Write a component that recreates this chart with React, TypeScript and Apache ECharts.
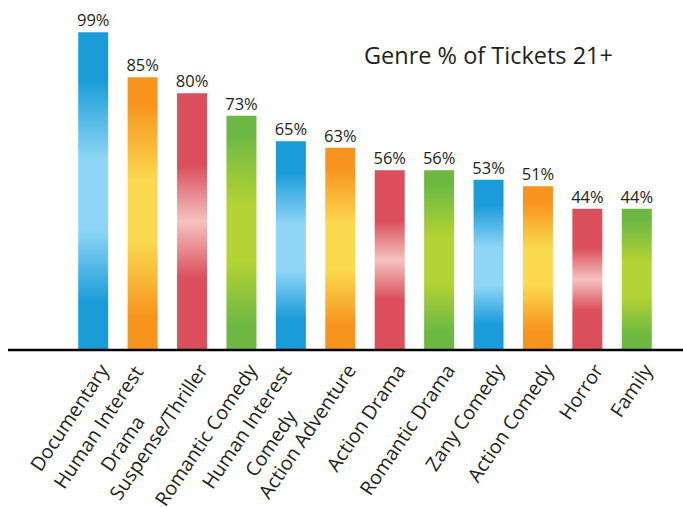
import React, { useEffect, useRef } from "react";
import * as echarts from "echarts";

const categories = [
  "Documentary",
  "Human Interest\nDrama",
  "Suspense/Thriller",
  "Romantic Comedy",
  "Human Interest\nComedy",
  "Action Adventure",
  "Action Drama",
  "Romantic Drama",
  "Zany Comedy",
  "Action Comedy",
  "Horror",
  "Family",
];
const values = [99, 85, 80, 73, 65, 63, 56, 56, 53, 51, 44, 44];
const titleText = "Genre % of Tickets 21+";

const palettes = [
  { dark: "#1a9cd9", light: "#8fd6f6", stops: [0.15, 0.4, 0.62, 0.85] },
  { dark: "#f7941e", light: "#fbd94f", stops: [0.1, 0.38, 0.6, 0.88] },
  { dark: "#da4f5b", light: "#f5c2c0", stops: [0.28, 0.5, 0.5, 0.72] },
  { dark: "#6cb843", light: "#b4d334", stops: [0.08, 0.38, 0.62, 0.9] },
];

const FONT = "'Open Sans', sans-serif";

function grad(i: number) {
  const p = palettes[i % 4];
  return new echarts.graphic.LinearGradient(0, 0, 0, 1, [
    { offset: 0, color: p.dark },
    { offset: p.stops[0], color: p.dark },
    { offset: p.stops[1], color: p.light },
    { offset: p.stops[2], color: p.light },
    { offset: p.stops[3], color: p.dark },
    { offset: 1, color: p.dark },
  ]);
}

export default function App() {
  const ref = useRef<HTMLDivElement>(null);
  useEffect(() => {
    if (!ref.current) return;
    const chart = echarts.init(ref.current, null, { renderer: "svg" });
    chart.setOption({
      animation: false,
      grid: {
        left: 68.5,
        right: 21.5,
        top: 29,
        bottom: 157,
        containLabel: false,
        outerBoundsMode: "none",
      },
      title: {
        text: titleText,
        left: 359,
        top: 38,
        textStyle: { fontFamily: FONT, fontSize: 23.5, fontWeight: "normal", color: "#231f20" },
      },
      xAxis: {
        type: "category",
        data: categories.map((c) =>
          c.includes("\n")
            ? { value: c, textStyle: { padding: [31, 10, 0, 0] } }
            : { value: c, textStyle: { padding: [25, 0, 0, 0] } }
        ),
        axisLine: { show: false },
        axisTick: { show: false },
        axisLabel: {
          rotate: 56,
          margin: 9,
          interval: 0,
          hideOverlap: false,
          fontFamily: FONT,
          fontSize: 19.5,
          color: "#231f20",
          formatter: (v: string) =>
            v
              .split("\n")
              .map((l) => `{c|${l}}`)
              .join("\n"),
          rich: {
            c: { align: "center", fontFamily: FONT, fontSize: 19.5, color: "#231f20", lineHeight: 29 },
          },
        },
      },
      yAxis: { type: "value", min: 0, max: 100, show: false, splitLine: { show: false } },
      series: [
        {
          type: "bar",
          barWidth: 30,
          data: values.map((v, i) => ({ value: v, itemStyle: { color: grad(i) } })),
          label: {
            show: true,
            position: "top",
            distance: 4,
            formatter: "{c}%",
            fontFamily: FONT,
            fontSize: 16.5,
            color: "#231f20",
          },
        },
      ],
      graphic: [
        {
          type: "line",
          shape: { x1: 8, y1: 350, x2: 683, y2: 350 },
          style: { stroke: "#000", lineWidth: 2.5 },
          z: 10,
        },
      ],
    });
    return () => chart.dispose();
  }, []);
  return <div ref={ref} style={{ width: 683, height: 507, position: "absolute", left: 0, top: 0 }} />;
}
